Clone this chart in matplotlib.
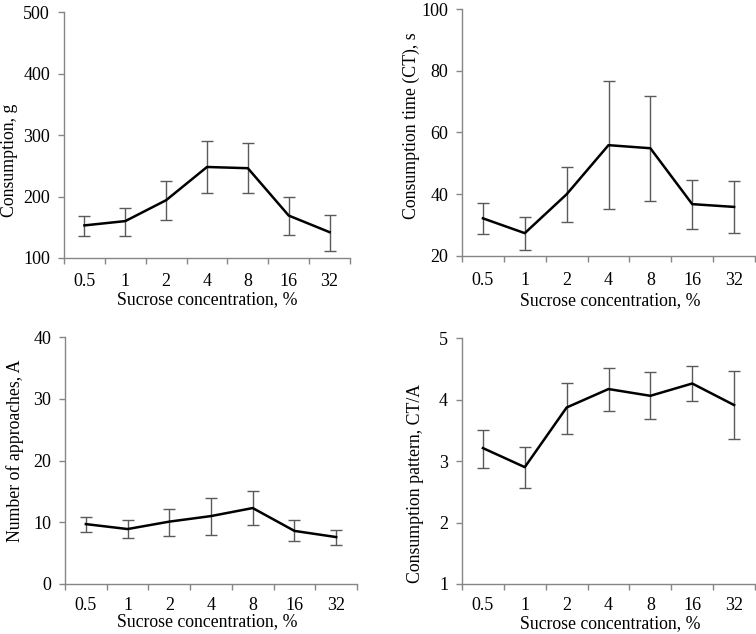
import matplotlib
matplotlib.use("Agg")
import matplotlib.pyplot as plt
import numpy as np

plt.rcParams['font.family'] = ['Liberation Serif', 'DejaVu Serif']

categories = ["0.5", "1", "2", "4", "8", "16", "32"]

consumption = [153, 160, 194, 248, 246, 169, 142]
consumption_lo = [136, 136, 162, 205, 206, 137, 112]
consumption_hi = [169, 182, 225, 291, 287, 200, 170]

ct = [32.2, 27.4, 40.0, 55.9, 54.9, 36.8, 35.9]
ct_lo = [27.2, 22.1, 31.1, 35.2, 37.9, 28.9, 27.4]
ct_hi = [37.1, 32.5, 48.7, 76.8, 71.9, 44.6, 44.3]

approaches = [9.7, 8.9, 10.1, 11.0, 12.3, 8.6, 7.6]
approaches_lo = [8.4, 7.5, 7.8, 8.0, 9.6, 6.9, 6.3]
approaches_hi = [10.9, 10.3, 12.2, 13.9, 15.0, 10.3, 8.8]

pattern = [3.21, 2.90, 3.87, 4.17, 4.06, 4.26, 3.91]
pattern_lo = [2.89, 2.56, 3.44, 3.82, 3.69, 3.97, 3.35]
pattern_hi = [3.51, 3.22, 4.27, 4.52, 4.44, 4.55, 4.47]

W, H = 756, 634
fig = plt.figure(figsize=(W / 100, H / 100), dpi=100)

def px_axes(left, right, top, bottom):
    return fig.add_axes([left / W, 1 - bottom / H, (right - left) / W, (bottom - top) / H])

# box: (left, right, top, bottom) px; ylab/xlab: label centre in px; tpad: tick label pad
panels = [
    dict(box=(64, 350, 12, 258), y=consumption, lo=consumption_lo, hi=consumption_hi,
         ylim=(100, 500), yticks=[100, 200, 300, 400, 500], ylabel="Consumption, g",
         ylab=(10, 160), xlab=(207, 300), tpad=11),
    dict(box=(462, 755, 9, 256), y=ct, lo=ct_lo, hi=ct_hi,
         ylim=(20, 100), yticks=[20, 40, 60, 80, 100], ylabel="Consumption time (CT), s",
         ylab=(411, 126), xlab=(610, 301), tpad=11.5),
    dict(box=(65, 357, 337, 584), y=approaches, lo=approaches_lo, hi=approaches_hi,
         ylim=(0, 40), yticks=[0, 10, 20, 30, 40], ylabel="Number of approaches, A",
         ylab=(15, 451), xlab=(207, 622), tpad=9.5),
    dict(box=(462, 755, 338, 584), y=pattern, lo=pattern_lo, hi=pattern_hi,
         ylim=(1, 5), yticks=[1, 2, 3, 4, 5], ylabel="Consumption pattern, CT/A",
         ylab=(415, 483), xlab=(610, 624), tpad=9),
]

axis_color = "#868686"
for p in panels:
    l, r, t, b = p["box"]
    ax = px_axes(l, r, t, b)
    x = np.arange(len(categories))
    y = np.array(p["y"])
    lo = y - np.array(p["lo"])
    hi = np.array(p["hi"]) - y
    ax.errorbar(x, y, yerr=[lo, hi], fmt="none", ecolor="#5a5a5a", elinewidth=1.0,
                capsize=4.5, capthick=1.0, zorder=2)
    ax.plot(x, y, color="black", lw=1.8, zorder=3)
    ax.set_xlim(-0.5, len(categories) - 0.5)
    ax.set_ylim(*p["ylim"])
    ax.set_yticks(p["yticks"])
    ax.set_xticks(x)
    ax.set_xticklabels(categories)
    ax.set_xticks(np.arange(-0.5, len(categories)), minor=True)
    ax.tick_params(axis="x", which="major", length=0, pad=p["tpad"], labelsize=13)
    ax.tick_params(axis="x", which="minor", length=4, width=1, color=axis_color, direction="out")
    ax.tick_params(axis="y", length=4, width=1, color=axis_color, direction="out", pad=6, labelsize=13)
    for s in ["top", "right"]:
        ax.spines[s].set_visible(False)
    for s in ["left", "bottom"]:
        ax.spines[s].set_color(axis_color)
        ax.spines[s].set_linewidth(1.0)
    ax.set_xlabel("Sucrose concentration, %", fontsize=12.8)
    ax.set_ylabel(p["ylabel"], fontsize=12.8)
    ax.xaxis.label.set_va("center")
    ax.yaxis.label.set_va("center")
    xl, yl = p["xlab"]
    ax.xaxis.set_label_coords((xl - l) / (r - l), (b - yl) / (b - t))
    xl, yl = p["ylab"]
    ax.yaxis.set_label_coords((xl - l) / (r - l), (b - yl) / (b - t))

fig.savefig("out.png", dpi=100)
